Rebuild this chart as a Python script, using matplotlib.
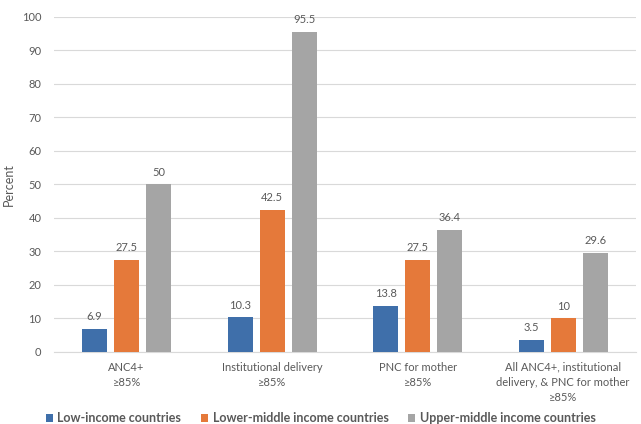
import matplotlib
matplotlib.use("Agg")
import matplotlib.pyplot as plt
import numpy as np

categories = [
    "ANC4+\n≥85%",
    "Institutional delivery\n≥85%",
    "PNC for mother\n≥85%",
    "All ANC4+, institutional\ndelivery, & PNC for mother\n≥85%",
]
series_names = ["Low-income countries", "Lower-middle income countries", "Upper-middle income countries"]
low_income = [6.9, 10.3, 13.8, 3.5]
lower_middle = [27.5, 42.5, 27.5, 10]
upper_middle = [50, 95.5, 36.4, 29.6]
y_ticks = [0, 10, 20, 30, 40, 50, 60, 70, 80, 90, 100]

colors = ["#3F6FAA", "#E5793A", "#A5A5A5"]
text_color = "#595959"

plt.rcParams["font.family"] = ["Lato", "DejaVu Sans"]

figure = plt.figure(figsize=(6.41, 4.24), dpi=100)
axis = figure.add_axes([0.084, 0.170, 0.908, 0.790])

x = np.arange(len(categories))
width = 0.172
step = 0.22
for index, (values, name) in enumerate(zip([low_income, lower_middle, upper_middle], series_names)):
    positions = x + (index - 1) * step
    bars = axis.bar(positions, values, width=width, color=colors[index], label=name, zorder=3)
    for bar, value in zip(bars, values):
        label = f"{value:g}"
        axis.text(bar.get_x() + bar.get_width() / 2, value + 2.0, label,
                  ha="center", va="bottom", fontsize=8, color=text_color)

axis.set_xlim(-0.5, len(categories) - 0.5)
axis.set_ylim(0, 100)
axis.set_yticks(y_ticks)
axis.set_xticks(x)
axis.set_xticklabels(categories, fontsize=8, color=text_color, linespacing=1.45)
axis.tick_params(axis="y", labelsize=8, labelcolor=text_color, length=0, pad=9)
axis.tick_params(axis="x", length=0, pad=7)
axis.grid(axis="y", color="#D9D9D9", linewidth=0.8, zorder=0)
for side in ["top", "right", "left"]:
    axis.spines[side].set_visible(False)
axis.spines["bottom"].set_color("#D9D9D9")
axis.set_ylabel("Percent", fontsize=9, color=text_color)
axis.yaxis.set_label_coords(-0.067, 0.5)

legend = figure.legend(loc="center left", bbox_to_anchor=(0.072, 0.013), ncol=3, frameon=False,
                       handlelength=0.55, handleheight=0.55, handletextpad=0.35, columnspacing=1.6,
                       borderaxespad=0, borderpad=0,
                       prop={"size": 9, "weight": "bold"})
for text in legend.get_texts():
    text.set_color(text_color)

figure.savefig("out.png", dpi=100)
plt.close(figure)
